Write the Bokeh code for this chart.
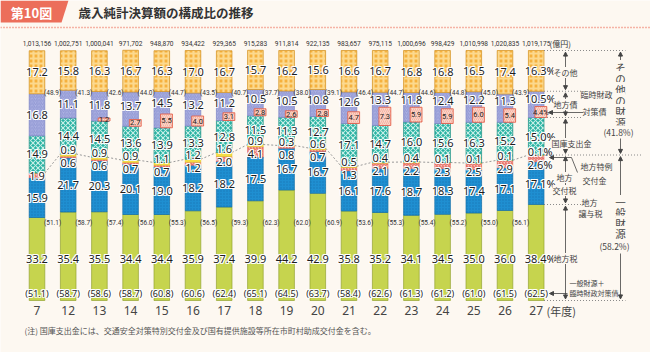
from bokeh.plotting import figure
from bokeh.models import ColumnDataSource, Range1d, Label, Arrow, NormalHead
from bokeh.core.properties import value
from bokeh.embed import file_html
from bokeh.resources import INLINE

# ---------------- data ----------------
years = ["7", "12", "13", "14", "15", "16", "17", "18", "19", "20", "21", "22", "23", "24", "25", "26", "27"]
totals = [1013156, 1002751, 1000041, 971702, 948870, 934422, 929365, 915283, 911814, 922135,
          983657, 975115, 1000696, 998429, 1010998, 1020835, 1019175]
chihozei = [33.2, 35.4, 35.5, 34.4, 34.4, 35.9, 37.4, 39.9, 44.2, 42.9, 35.8, 35.2, 34.1, 34.5, 35.0, 36.0, 38.4]
kofuzei = [15.9, 21.7, 20.3, 20.1, 19.0, 18.2, 18.2, 17.5, 16.7, 16.7, 16.1, 17.6, 18.7, 18.3, 17.4, 17.1, 17.1]
joyozei = [1.9, 0.6, 0.6, 0.7, 0.7, 1.2, 2.0, 4.1, 0.8, 0.7, 1.3, 2.1, 2.2, 2.3, 2.5, 2.9, 2.6]
tokurei = [None, 0.9, 0.9, 0.9, 1.1, 1.2, 1.6, 0.9, 0.3, 0.6, 0.5, 0.4, 0.4, 0.1, 0.1, 0.1, 0.1]
kokko = [14.9, 14.4, 14.5, 13.6, 13.9, 13.3, 12.8, 11.5, 11.3, 12.7, 17.1, 14.7, 16.0, 15.6, 16.3, 15.2, 15.0]
chihosai = [16.8, 11.1, 11.8, 13.7, 14.5, 13.2, 11.2, 10.5, 10.5, 10.8, 12.6, 13.3, 11.8, 12.4, 12.2, 11.3, 10.5]
rinzaisai = [None, None, 1.2, 2.7, 5.5, 4.0, 3.1, 2.8, 2.6, 2.8, 4.7, 7.3, 5.9, 5.9, 6.0, 5.4, 4.4]
sonota = [17.2, 15.8, 16.3, 16.7, 16.3, 17.0, 16.7, 15.7, 16.2, 15.6, 16.6, 16.7, 16.8, 16.8, 16.5, 17.4, 16.3]
other_src = [48.9, 41.3, 42.6, 44.0, 44.7, 43.5, 40.7, 37.7, 38.0, 39.1, 46.4, 44.7, 44.6, 44.8, 45.0, 43.9]
general_src = [51.1, 58.7, 57.4, 56.0, 55.3, 56.5, 59.3, 62.3, 62.0, 60.9, 53.6, 55.3, 55.4, 55.2, 55.0, 56.1]
general_plus = [51.1, 58.7, 58.6, 58.7, 60.8, 60.6, 62.4, 65.1, 64.5, 63.7, 58.4, 62.6, 61.3, 61.2, 61.0, 61.5, 62.5]
other_total_last = "41.8"
general_total_last = "58.2"

# ---------------- layout helpers ----------------
W, H = 650, 352
XS, X0 = 31.2, 36.5          # px per bar step, px of first bar centre
YS, YB = 2.5, 300.0          # px per percent, px of baseline (from top)


def dx(px):
    return (px - X0) / XS


def dy(py):
    return (YB - py) / YS


BG = "#fdf8f1"
CORAL = "#ec6e5a"
NUM_FONT = value("Noto Sans")
JP_FONT = value("Noto Sans CJK JP")
JP_FONT_S = "Noto Sans CJK JP"
NARROW = value("Roboto")

p = figure(width=W, height=H, output_backend="svg", toolbar_location=None,
           x_range=Range1d(dx(0), dx(W)), y_range=Range1d(dy(H), dy(0)),
           min_border=0, background_fill_color=BG, border_fill_color=BG)
p.outline_line_color = None
p.axis.visible = False
p.grid.visible = False

n = len(years)
idx = list(range(n))
last = n - 1
z = lambda v: 0.0 if v is None else v
t1 = [chihozei[i] for i in idx]
t2 = [t1[i] + kofuzei[i] for i in idx]
t3 = [t2[i] + joyozei[i] for i in idx]
t4 = [t3[i] + z(tokurei[i]) for i in idx]
t5 = [t4[i] + kokko[i] for i in idx]
t6 = [t5[i] + chihosai[i] for i in idx]
t7 = [t6[i] + sonota[i] for i in idx]
BW = 0.5

# ---------------- header ----------------
p.patch([dx(0), dx(68), dx(61), dx(0)], [dy(0), dy(0), dy(22), dy(22)], fill_color=CORAL, line_color=None)
p.text(x=[dx(31)], y=[dy(11.5)], text=["第10図"], text_color="white", text_font=JP_FONT,
       text_font_size="13px", text_font_style="bold", text_align="center", text_baseline="middle")
p.text(x=[dx(78)], y=[dy(12)], text=["歳入純計決算額の構成比の推移"], text_color="#333333", text_font=JP_FONT,
       text_font_size="12.5px", text_font_style="bold", text_align="left", text_baseline="middle")
p.line([dx(0), dx(W)], [dy(27), dy(27)], line_color=CORAL, line_dash="1 2", line_width=1.3)

# ---------------- general-revenue dotted connector ----------------
p.segment(x0=[i + BW / 2 for i in idx[:-1]], y0=t4[:-1], x1=[i + 1 - BW / 2 for i in idx[:-1]], y1=t4[1:],
          line_color="#999999", line_dash="2 2", line_width=1)

# ---------------- bars ----------------
p.vbar(x=idx, width=BW, bottom=0, top=t1, fill_color="#c6d44e", line_color="#94a332", line_width=0.7)
p.vbar(x=idx, width=BW, bottom=t1, top=t2, fill_color="#1f8fd1", line_color="#1670a8", line_width=0.7,
       hatch_pattern="dot", hatch_color="#1778b8", hatch_scale=3, hatch_weight=1)
p.vbar(x=idx, width=BW, bottom=t2, top=t3, fill_color="#f8c0b6", line_color="#e05048", line_width=0.5,
       hatch_pattern="right_diagonal_line", hatch_color="#e04a44", hatch_scale=3, hatch_weight=0.8)
p.vbar(x=idx, width=BW, bottom=t3, top=t4, fill_color="#f4de45", line_color="#d9c12a", line_width=0.5)
p.vbar(x=idx, width=BW, bottom=t4, top=t5, fill_color="#27b2a2", line_color="#1f8f83", line_width=0.7,
       hatch_pattern="diagonal_cross", hatch_color="#c6eee6", hatch_scale=5, hatch_weight=1.1)
p.vbar(x=idx, width=BW, bottom=t5, top=t6, fill_color="#acb1e2", line_color="#7f86c6", line_width=0.7,
       hatch_pattern="right_diagonal_line", hatch_color="#8990cf", hatch_scale=3.5, hatch_weight=0.8)
p.vbar(x=idx, width=BW, bottom=t6, top=t7, fill_color="#f6b13d", line_color="#d39427", line_width=0.7,
       hatch_pattern="cross", hatch_color="#fcd98e", hatch_scale=5, hatch_weight=2.2)

# temporary financial-measure bond boxes
ri = [i for i in idx if rinzaisai[i] is not None]
p.vbar(x=[i + 0.15 for i in ri], width=0.38, bottom=[t5[i] for i in ri], top=[t5[i] + rinzaisai[i] for i in ri],
       fill_color="#fbd6ca", line_color="#e2553f", line_width=0.8,
       hatch_pattern="right_diagonal_line", hatch_color="#f29a88", hatch_scale=4, hatch_weight=0.6)


# ---------------- label helpers ----------------
def pct(i, v):
    return f"{v:.1f}%" if i == last else f"{v:.1f}"


def halo_text(xs, ys, texts, size, font=NUM_FONT, color="#1e1e1e", halo=True, xoff=None):
    if xoff is None:
        xoff = [0] * len(xs)
    src = ColumnDataSource(dict(x=xs, y=ys, t=texts, xo=xoff))
    if halo:
        for ox, oy in [(-1, 0), (1, 0), (0, -1), (0, 1), (-1, -1), (1, 1), (-1, 1), (1, -1)]:
            src2 = ColumnDataSource(dict(x=xs, y=ys, t=texts, xo=[v + ox for v in xoff]))
            p.text(x="x", y="y", text="t", source=src2, x_offset="xo", y_offset=oy, text_color="white",
                   text_font=font, text_font_size=size, text_align="center", text_baseline="middle")
    p.text(x="x", y="y", text="t", source=src, x_offset="xo", text_color=color,
           text_font=font, text_font_size=size, text_align="center", text_baseline="middle")


PXU = 1 / YS
xo_last = [4 if i == last else 0 for i in idx]

# 地方税 (fixed row)
halo_text(idx, [dy(258)] * n, [pct(i, chihozei[i]) for i in idx], "11px", xoff=xo_last)
# 一般財源 + 臨財債 (bottom row)
halo_text(idx, [dy(293)] * n, [f"({v:.1f})" for v in general_plus], "9px")

# small segments (譲与税 / 特例交付金)
ux, uy, ut, uo = [], [], [], []
for i in idx:
    top = t4[i]
    if tokurei[i] is None:
        ux.append(i); uy.append(top - 1.0); ut.append(pct(i, joyozei[i])); uo.append(xo_last[i])
    else:
        ux += [i, i]; uy += [top + 4 * PXU, top - 9 * PXU]
        ut += [pct(i, tokurei[i]), pct(i, joyozei[i])]; uo += [xo_last[i], xo_last[i]]
halo_text(ux, uy, ut, "11px", xoff=uo)

# 地方交付税
kfy = []
for i in idx:
    mid = (t1[i] + t2[i]) / 2
    lim = t4[i] - 9 * PXU - 12 * PXU
    kfy.append(min(mid, lim))
halo_text(idx, kfy, [pct(i, kofuzei[i]) for i in idx], "11px", xoff=xo_last)
# 国庫支出金
halo_text(idx, [(t4[i] + t5[i]) / 2 for i in idx], [pct(i, kokko[i]) for i in idx], "11px", xoff=xo_last)
# 地方債
halo_text(idx, [(t5[i] + z(rinzaisai[i]) + t6[i]) / 2 for i in idx], [pct(i, chihosai[i]) for i in idx],
          "11px", xoff=xo_last)
# その他
halo_text(idx, [(t6[i] + t7[i]) / 2 for i in idx], [pct(i, sonota[i]) for i in idx], "11px", xoff=xo_last)
# 臨時財政対策債 boxes
p.text(x=[i + 0.15 for i in ri], y=[t5[i] + rinzaisai[i] / 2 for i in ri], text=[pct(i, rinzaisai[i]) for i in ri],
       text_color="#222222", text_font=NARROW, text_font_size="7.5px", text_align="center", text_baseline="middle")

# parenthetical sub-totals between bars
p.text(x=[i + 0.5 for i in range(len(other_src))], y=[dy(92)] * len(other_src),
       text=[f"({v:.1f})" for v in other_src], text_color="#333333", text_font=NARROW,
       text_font_size="6.5px", text_align="center", text_baseline="middle")
p.text(x=[i + 0.5 for i in range(len(general_src))], y=[dy(222)] * len(general_src),
       text=[f"({v:.1f})" for v in general_src], text_color="#333333", text_font=NARROW,
       text_font_size="6.5px", text_align="center", text_baseline="middle")

# totals and year labels
p.text(x=idx, y=[dy(43)] * n, text=[f"{v:,}" for v in totals], text_color="#333333", text_font=NARROW,
       text_font_size="6.6px", text_align="center", text_baseline="middle")
p.text(x=[dx(549)], y=[dy(43)], text=["(億円)"], text_color="#333333", text_font=JP_FONT,
       text_font_size="8px", text_align="left", text_baseline="middle")
p.text(x=idx, y=[dy(310)] * n, text=years, text_color="#444444", text_font=NUM_FONT,
       text_font_size="12px", text_align="center", text_baseline="middle")
p.text(x=[dx(546)], y=[dy(310)], text=["(年度)"], text_color="#444444", text_font=JP_FONT,
       text_font_size="11px", text_align="left", text_baseline="middle")

# note
p.text(x=[dx(24)], y=[dy(330)], text=["(注) 国庫支出金には、交通安全対策特別交付金及び国有提供施設等所在市町村助成交付金を含む。"],
       text_color="#555555", text_font=JP_FONT, text_font_size="8px", text_align="left", text_baseline="middle")

# ---------------- right-hand annotations ----------------
xr = last + BW / 2
GUIDE = "#8a8a8a"
for yv, xe in [(t7[last], 625), (t6[last], 582), (t5[last], 582), (t4[last], 642), (t1[last], 582), (0, 625)]:
    p.line([xr, dx(xe)], [yv, yv], line_color=GUIDE, line_dash="1 2", line_width=1)

LC = "#444444"


def arrow(x0, y0, x1, y1, both=True):
    kw = dict(size=4, fill_color=LC, line_color=LC)
    a = Arrow(end=NormalHead(**kw), start=NormalHead(**kw) if both else None,
              x_start=x0, y_start=y0, x_end=x1, y_end=y1, line_color=LC, line_width=0.8)
    p.add_layout(a)


xa = dx(565)
gap = 1.6 * PXU
for lo, hi in [(t6[last], t7[last]), (t5[last], t6[last]), (t4[last], t5[last]), (t1[last], t4[last]), (0, t1[last])]:
    arrow(xa, hi - gap, xa, lo + gap)

xb = dx(620)
arrow(xb, dy(61), xb, t7[last] - gap, both=False)
arrow(xb, dy(138), xb, t4[last] + gap, both=False)
arrow(xb, dy(196), xb, t4[last] - gap, both=False)
arrow(xb, dy(253), xb, 0 + gap, both=False)

arrow(dx(583), dy(112), dx(548), dy(112), both=False)
p.line([dx(571), dx(577)], [dy(157), dy(172)], line_color=LC, line_width=0.8)
arrow(dx(571), dy(157), dx(549), dy(157), both=False)
arrow(dx(567), dy(293), dx(549), dy(293), both=False)


def ann(xp, yp, text, size="8px", align="center", bg=True):
    lab = Label(x=dx(xp), y=dy(yp), text=text, text_font=JP_FONT_S, text_font_size=size, text_color="#444444",
                text_align=align, text_baseline="middle",
                background_fill_color=BG if bg else None)
    p.add_layout(lab)


ann(565, 72, "その他")
ann(565, 104, "地方債")
ann(596, 94, "臨時財政", bg=False)
ann(594, 111, "対策債", bg=False)
ann(571, 143, "国庫支出金")
ann(596, 166, "地方特例", bg=False)
ann(594, 180, "交付金", bg=False)
ann(564, 177, "地方")
ann(564, 190, "交付税")
ann(589, 202, "地方", bg=False)
ann(590, 213, "譲与税", bg=False)
ann(565, 258, "地方税")
ann(569, 282, "一般財源＋", size="7px", align="left", bg=False)
ann(569, 292, "臨時財政対策債", size="7px", align="left", bg=False)

for k, ch in enumerate("その他の財源"):
    ann(620, 67 + 11 * k, ch, size="10.5px")
ann(618, 131, f"({other_total_last}%)", size="8.5px")
for k, ch in enumerate("一般財源"):
    ann(620, 202 + 10.3 * k, ch, size="10.5px")
ann(614, 245, f"({general_total_last}%)", size="8.5px")

open("out.html", "w").write(file_html(p, INLINE))
